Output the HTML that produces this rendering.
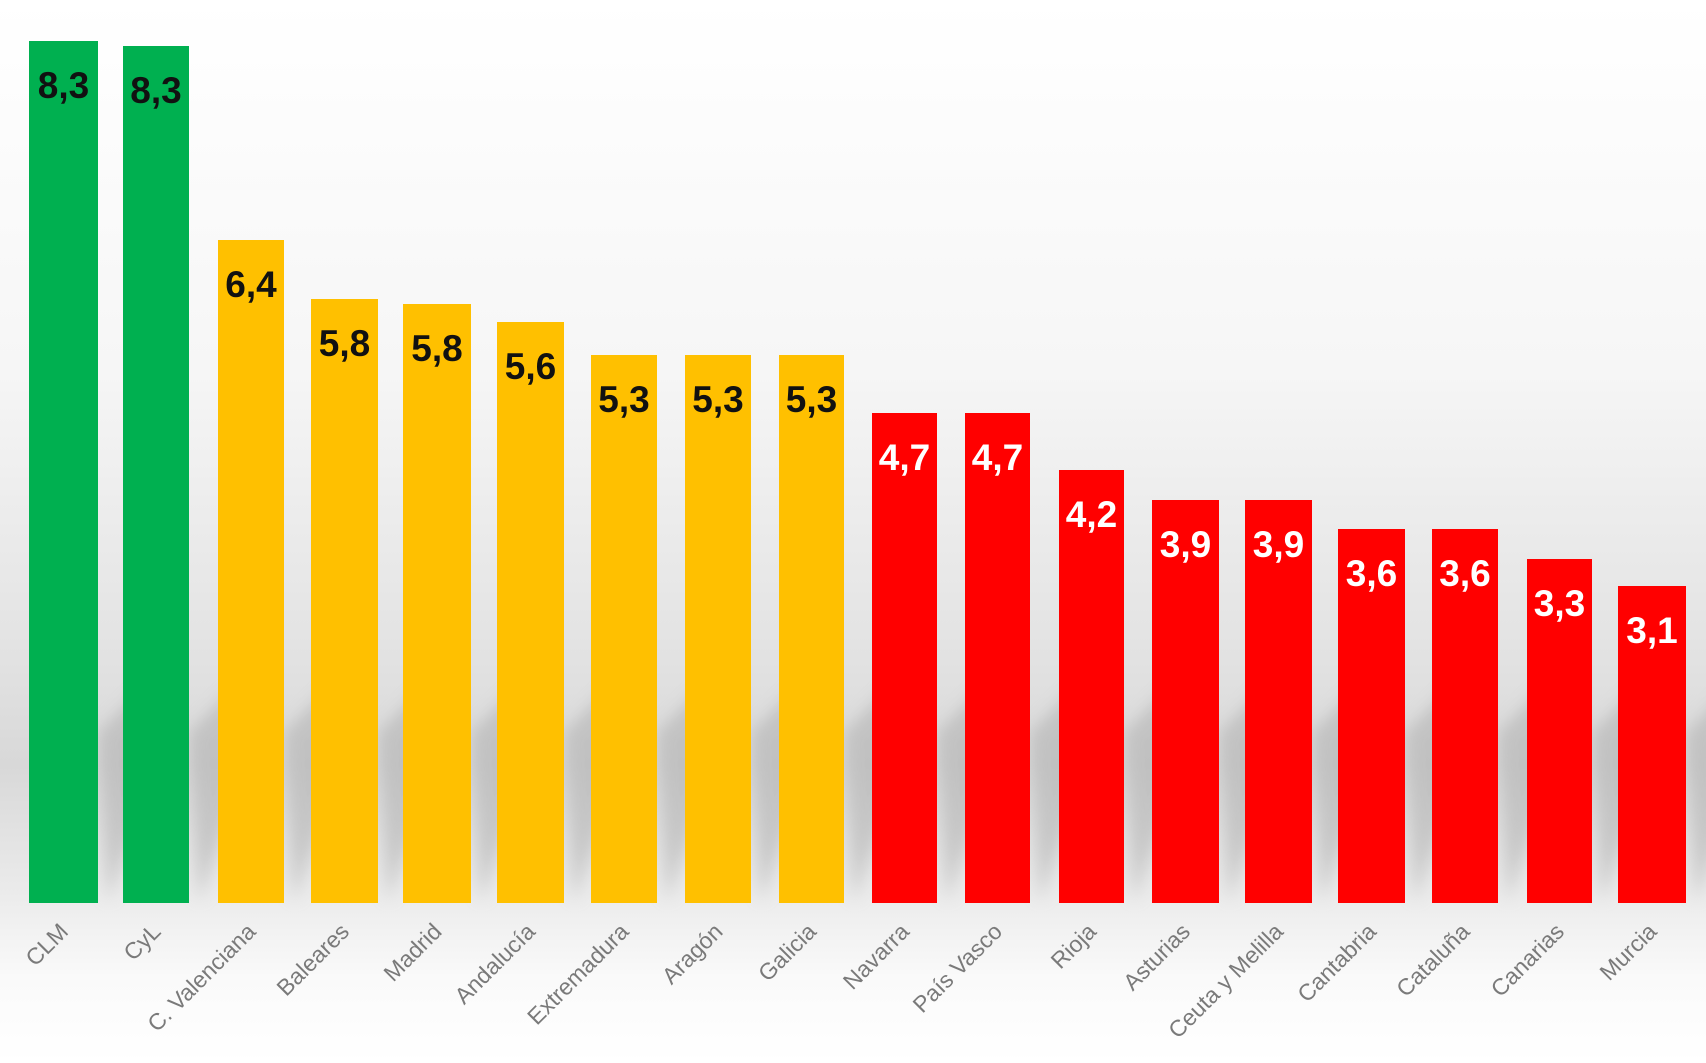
<!DOCTYPE html>
<html><head><meta charset="utf-8"><style>
html,body{margin:0;padding:0;width:1706px;height:1063px;overflow:hidden;background:#fff}
</style></head><body>
<svg width="1706" height="1063" xmlns="http://www.w3.org/2000/svg">
<defs>
<linearGradient id="bg" x1="0" y1="0" x2="0" y2="1">
<stop offset="0" stop-color="#ffffff"/>
<stop offset="0.35" stop-color="#f6f6f6"/>
<stop offset="0.62" stop-color="#e2e2e2"/>
<stop offset="0.72" stop-color="#d8d8d8"/>
<stop offset="0.84" stop-color="#ebebeb"/>
<stop offset="0.92" stop-color="#fafafa"/>
<stop offset="1" stop-color="#ffffff"/>
</linearGradient>
<filter id="blur"><feGaussianBlur stdDeviation="8"/></filter>
</defs>
<rect width="1706" height="1063" fill="url(#bg)"/>
<g id="bars"></g>
</svg>
<script>
var d=[["CLM",29,98,41,"8,3","#00b050","#111"],["CyL",123,189,46,"8,3","#00b050","#111"],
["C. Valenciana",218,284,240,"6,4","#ffc000","#111"],["Baleares",311,378,299,"5,8","#ffc000","#111"],
["Madrid",403,471,304,"5,8","#ffc000","#111"],["Andalucía",497,564,322,"5,6","#ffc000","#111"],
["Extremadura",591,657,355,"5,3","#ffc000","#111"],["Aragón",685,751,355,"5,3","#ffc000","#111"],
["Galicia",779,844,355,"5,3","#ffc000","#111"],["Navarra",872,937,413,"4,7","#ff0000","#fff"],
["País Vasco",965,1030,413,"4,7","#ff0000","#fff"],["Rioja",1059,1124,470,"4,2","#ff0000","#fff"],
["Asturias",1152,1219,500,"3,9","#ff0000","#fff"],["Ceuta y Melilla",1245,1312,500,"3,9","#ff0000","#fff"],
["Cantabria",1338,1405,529,"3,6","#ff0000","#fff"],["Cataluña",1432,1498,529,"3,6","#ff0000","#fff"],
["Canarias",1527,1592,559,"3,3","#ff0000","#fff"],["Murcia",1618,1686,586,"3,1","#ff0000","#fff"]];
var s="",B=903;
d.forEach(function(r){var x=r[1],w=r[2]-r[1],cx=(r[1]+r[2])/2;
s+='<polygon points="'+(x+w)+','+(B-170)+' '+(x+w+60)+','+(B-230)+' '+(x+w+60)+','+(B-150)+' '+(x+w+10)+','+B+'" fill="#aaa" opacity="0.5" filter="url(#blur)"/>';});
d.forEach(function(r){var x=r[1],w=r[2]-r[1],cx=(r[1]+r[2])/2;
s+='<rect x="'+x+'" y="'+r[3]+'" width="'+w+'" height="'+(B-r[3])+'" fill="'+r[5]+'"/>';
s+='<text x="'+cx+'" y="'+(r[3]+57)+'" text-anchor="middle" font-family="Liberation Sans, sans-serif" font-weight="bold" font-size="37" fill="'+r[6]+'">'+r[4]+'</text>';
var lx=cx+6,ly=933;
s+='<text x="'+lx+'" y="'+ly+'" text-anchor="end" transform="rotate(-45 '+lx+' '+ly+')" font-family="Liberation Sans, sans-serif" font-size="23" fill="#7a7a7a">'+r[0]+'</text>';});
document.getElementById("bars").innerHTML=s;
</script>
</body></html>
